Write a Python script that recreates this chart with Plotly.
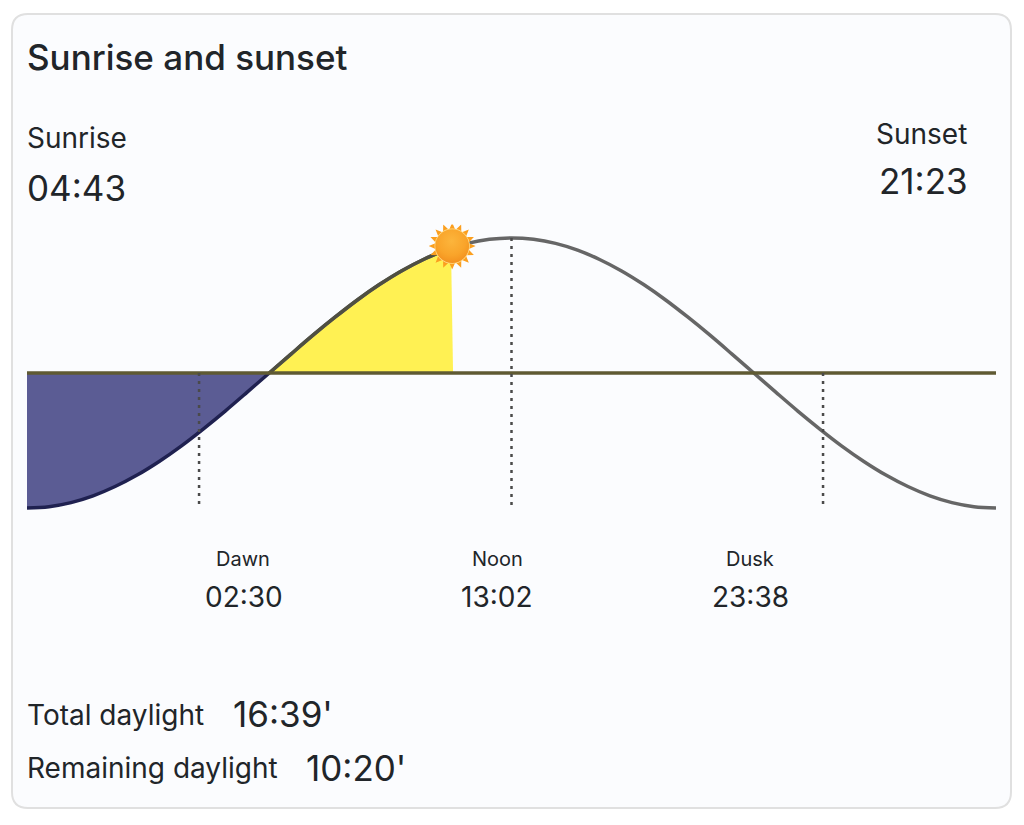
import base64
import math
import plotly.graph_objects as go

# sun altitude curve (hour of day, -1..1 altitude)
curve_hours = [4.75, 5.5, 6.25, 7, 7.75, 8.5, 9.25, 10, 10.75, 11.5, 12.25, 13, 13.75, 14.5, 15.25, 16, 16.75, 17.5, 18.25, 19, 19.75, 20.5, 21.25, 22, 22.75, 23.5, 24.25, 25, 25.75, 26.5, 27.25, 28, 28.75, 29.5]
curve_alt = [0.0, 0.142, 0.282, 0.415, 0.541, 0.655, 0.756, 0.841, 0.91, 0.96, 0.99, 1.0, 0.99, 0.96, 0.91, 0.841, 0.756, 0.655, 0.541, 0.415, 0.282, 0.142, 0.0, -0.142, -0.282, -0.415, -0.541, -0.655, -0.756, -0.841, -0.91, -0.96, -0.99, -1.0]

night_hours = [-3.5, -2.75, -2, -1.25, -0.5, 0.25, 1, 1.75, 2.5, 3.25, 4, 4.75]
night_alt = [-1.0, -0.99, -0.96, -0.91, -0.841, -0.756, -0.655, -0.541, -0.415, -0.282, -0.142, 0.0]

day_hours = [4.75, 5.5, 6.25, 7, 7.75, 8.5, 9.25, 10, 10.75, 10.94, 11.01, 4.75]
day_alt = [0.0, 0.142, 0.282, 0.415, 0.541, 0.655, 0.756, 0.841, 0.91, 0.924, 0.0, 0.0]

horizon_hours = [-3.5, 29.5]
horizon_alt = [0, 0]

# dotted markers: hour, top, bottom
marker_hours = [2.36, 13, 23.61]
marker_top = [0, 1, 0]
marker_bottom = [-1, -1, -1]

now_hour = 10.98
now_alt = 0.94

TEXT = "#212529"
FONT = "Inter"
W, H = 1024, 825


def px(x, y):
    return x / W, 1 - y / H


def sun_svg():
    # 16 point sun with a radial gradient face
    pts = []
    for i in range(32):
        r = 50 if i % 2 == 0 else 35
        a = math.pi * i / 16 - math.pi / 2
        pts.append(f"{50 + r * math.cos(a):.1f},{50 + r * math.sin(a):.1f}")
    svg = (
        '<svg xmlns="http://www.w3.org/2000/svg" width="200" height="200" viewBox="0 0 100 100">'
        '<defs><radialGradient id="g" cx="48%" cy="35%" r="70%">'
        '<stop offset="0%" stop-color="#fcb53c"/><stop offset="60%" stop-color="#f9a42a"/>'
        '<stop offset="100%" stop-color="#f28d1c"/></radialGradient></defs>'
        f'<polygon points="{" ".join(pts)}" fill="#fb9f1f"/>'
        '<circle cx="50" cy="50" r="37.5" fill="#ffdf8f"/>'
        '<circle cx="50" cy="50" r="36" fill="url(#g)"/></svg>'
    )
    return "data:image/svg+xml;base64," + base64.b64encode(svg.encode()).decode()


def card_path(x0, y0, x1, y1, r):
    def p(x, y):
        a, b = px(x, y)
        return f"{a:.5f},{b:.5f}"
    return (
        f"M{p(x0 + r, y0)} L{p(x1 - r, y0)} Q{p(x1, y0)} {p(x1, y0 + r)} "
        f"L{p(x1, y1 - r)} Q{p(x1, y1)} {p(x1 - r, y1)} "
        f"L{p(x0 + r, y1)} Q{p(x0, y1)} {p(x0, y1 - r)} "
        f"L{p(x0, y0 + r)} Q{p(x0, y0)} {p(x0 + r, y0)} Z"
    )


fig = go.Figure()

# filled areas
fig.add_trace(go.Scatter(x=night_hours, y=night_alt, mode="lines", fill="tozeroy",
                         fillcolor="#5b5c94", line=dict(color="#1f2150", width=3.5, shape="spline")))
fig.add_trace(go.Scatter(x=day_hours, y=day_alt, mode="none", fill="toself", fillcolor="#fff153"))

# curve, darker where it runs along the day fill
fig.add_trace(go.Scatter(x=curve_hours, y=curve_alt, mode="lines",
                         line=dict(color="#666666", width=3.5, shape="spline")))
fig.add_trace(go.Scatter(x=curve_hours[:9], y=curve_alt[:9], mode="lines",
                         line=dict(color="#4f4f42", width=3.5, shape="spline")))
fig.add_trace(go.Scatter(x=horizon_hours, y=horizon_alt, mode="lines", line=dict(color="#5f5a33", width=3.5)))

for h, top, bottom in zip(marker_hours, marker_top, marker_bottom):
    fig.add_trace(go.Scatter(x=[h, h], y=[top, bottom], mode="lines",
                             line=dict(color="#4a4a4a", width=2.5, dash="3px,5px")))

labels = [
    ("Sunset", 921.5, 134, 28, "center"),
    ("21:23", 923, 181, 35, "center"),
    ("Sunrise", 26.5, 138, 28, "left"),
    ("04:43", 26.5, 188, 35, "left"),
    ("Dawn", 243, 559, 20, "center"),
    ("02:30", 243.5, 597, 28, "center"),
    ("Noon", 497, 559, 20, "center"),
    ("13:02", 497, 597, 28, "center"),
    ("Dusk", 750, 559, 20, "center"),
    ("23:38", 750.5, 597, 28, "center"),
    ("Total daylight", 26.5, 715, 28, "left"),
    ("16:39'", 232.5, 714, 35, "left"),
    ("Remaining daylight", 26.5, 768, 28, "left"),
    ("10:20'", 306, 768, 35, "left"),
]
annotations = [
    dict(text=t, x=px(x, y)[0], y=px(x, y)[1], xref="paper", yref="paper", xanchor=a, yanchor="middle",
         showarrow=False, borderpad=0, borderwidth=0, font=dict(family=FONT, size=s, color=TEXT))
    for t, x, y, s, a in labels
]
annotations.append(dict(text="Sunrise and sunset", x=px(26.5, 56.5)[0], y=px(26.5, 56.5)[1], xref="paper", yref="paper",
                        xanchor="left", yanchor="middle", showarrow=False, borderpad=0, borderwidth=0,
                        font=dict(family=FONT, size=35, color=TEXT, weight=500)))

fig.update_layout(
    width=W,
    height=H,
    margin=dict(l=0, r=0, t=0, b=0),
    paper_bgcolor="white",
    plot_bgcolor="rgba(0,0,0,0)",
    showlegend=False,
    xaxis=dict(domain=[27 / W, 996 / W], range=[-3.5, 29.5], visible=False),
    yaxis=dict(domain=[(H - 521.5) / H, (H - 224.5) / H], range=[-1.1, 1.1], visible=False),
    annotations=annotations,
    shapes=[dict(type="path", xref="paper", yref="paper", layer="below",
                 path=card_path(12, 14, 1011, 808, 16), fillcolor="#fbfcfe",
                 line=dict(color="#e0e0e0", width=2))],
    images=[dict(source=sun_svg(), xref="x", yref="y", x=now_hour, y=now_alt, sizex=47 / 29.36, sizey=47 / 135,
                 xanchor="center", yanchor="middle", sizing="stretch", layer="above")],
)

fig.write_html("out.html", config={"displayModeBar": False}, post_script="document.body.style.margin='0';")
